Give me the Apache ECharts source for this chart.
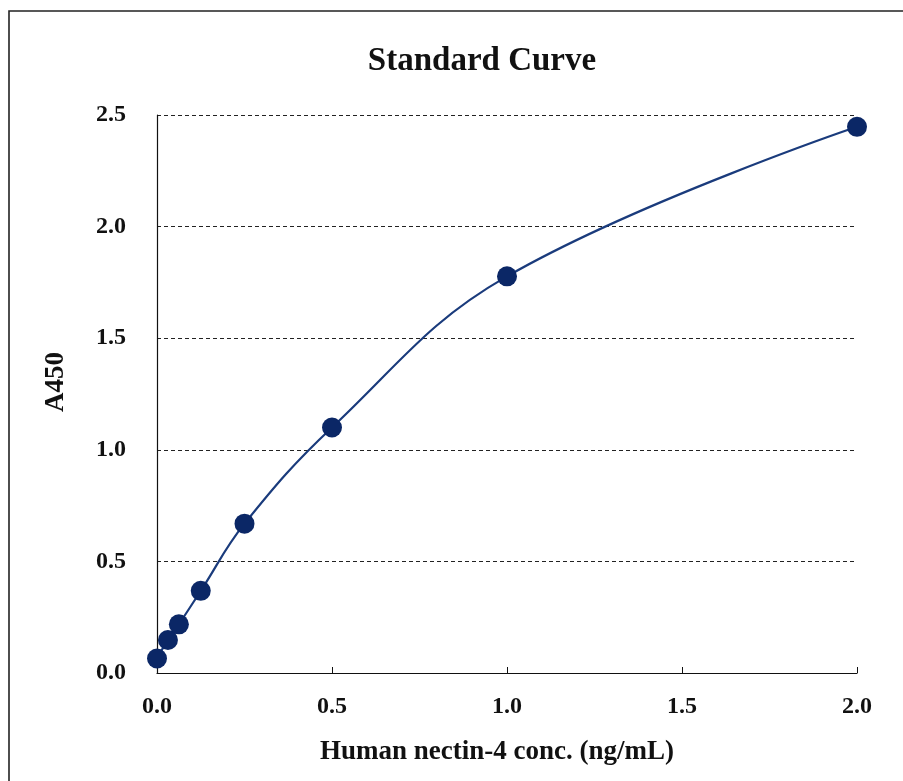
<!DOCTYPE html>
<html><head><meta charset="utf-8">
<script src="https://cdn.jsdelivr.net/npm/echarts@6/dist/echarts.min.js"></script>
<style>html,body{margin:0;padding:0;background:#fff}#c{width:903px;height:781px}</style>
</head><body><div id="c"></div>
<script>
const conc = [0, 0.03125, 0.0625, 0.125, 0.25, 0.5, 1.0, 2.0];
const a450 = [0.065, 0.148, 0.218, 0.368, 0.669, 1.10, 1.777, 2.447];
const titleText = 'Standard Curve';
const xName = 'Human nectin-4 conc. (ng/mL)';
const yName = 'A450';
const chart = echarts.init(document.getElementById('c'));
const font = 'Liberation Serif, Times New Roman, serif';
chart.setOption({
  animation: false,
  graphic: [
    {type:'rect', shape:{x:9, y:11, width:920, height:800}, style:{fill:'none', stroke:'#222', lineWidth:1.6}, silent:true},
    {type:'text', x:482, y:61, style:{text:titleText, textAlign:'center', textVerticalAlign:'middle', font:'bold 33px ' + font, fill:'#111'}, silent:true},
    {type:'text', x:497, y:752, style:{text:xName, textAlign:'center', textVerticalAlign:'middle', font:'bold 27px ' + font, fill:'#111'}, silent:true},
    {type:'text', x:56, y:382, rotation:Math.PI/2, style:{text:yName, textAlign:'center', textVerticalAlign:'middle', font:'bold 27px ' + font, fill:'#111'}, silent:true}
  ],
  grid: {left:157, right:46, top:115, bottom:108},
  xAxis: {type:'value', min:0, max:2, interval:0.5,
    axisLine:{lineStyle:{color:'#111', width:1.2}},
    axisTick:{show:true, inside:true, length:6, lineStyle:{color:'#111'}},
    axisLabel:{fontFamily:font, fontWeight:'bold', fontSize:24, color:'#111', margin:22, formatter:v=>v.toFixed(1)},
    splitLine:{show:false}},
  yAxis: {type:'value', min:0, max:2.5, interval:0.5,
    axisLine:{show:true, lineStyle:{color:'#111', width:1.2}},
    axisTick:{show:false},
    axisLabel:{fontFamily:font, fontWeight:'bold', fontSize:24, color:'#111', margin:31, formatter:v=>v.toFixed(1)},
    splitLine:{show:true, lineStyle:{color:'#222', type:[4,3], width:1}}},
  series: [{type:'line', data: conc.map((c,i)=>[c, a450[i]]), smooth:0.4,
    symbol:'circle', symbolSize:20,
    itemStyle:{color:'#0b2766'}, lineStyle:{color:'#1a3b7c', width:2.2}}]
});
</script></body></html>
